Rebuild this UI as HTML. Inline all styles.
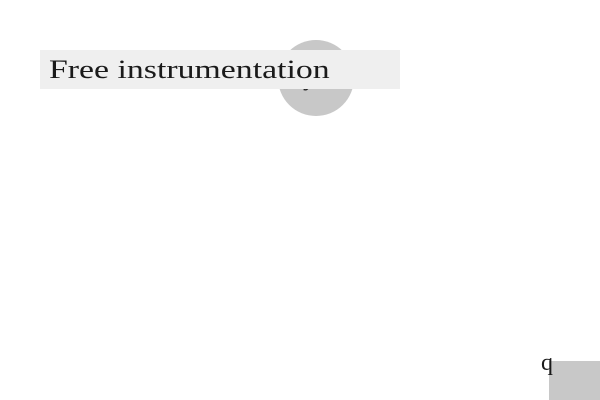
<!DOCTYPE html>
<html><head><style>
body{margin:0;width:600px;height:400px;background:#fff;position:relative;overflow:hidden;font-family:"Liberation Serif",serif;}
.a{position:absolute}
</style></head><body>
<div class="a" style="left:278px;top:40px;width:76px;height:76px;border-radius:50%;background:#c8c8c8"></div>
<div class="a" style="left:303px;top:62px;font-size:26px;color:#222">y</div>
<div class="a" style="left:40px;top:50px;width:360px;height:39px;background:#efefef"></div>
<div class="a" style="left:49px;top:54px;font-size:26px;line-height:32px;color:#1a1a1a;white-space:nowrap;transform:scaleX(1.3);transform-origin:0 0">Free instrumentation</div>
<div class="a" style="left:549px;top:361px;width:51px;height:39px;background:#c8c8c8"></div>
<div class="a" style="left:541px;top:349px;font-size:24px;line-height:28px;color:#1a1a1a">q</div>
</body></html>
